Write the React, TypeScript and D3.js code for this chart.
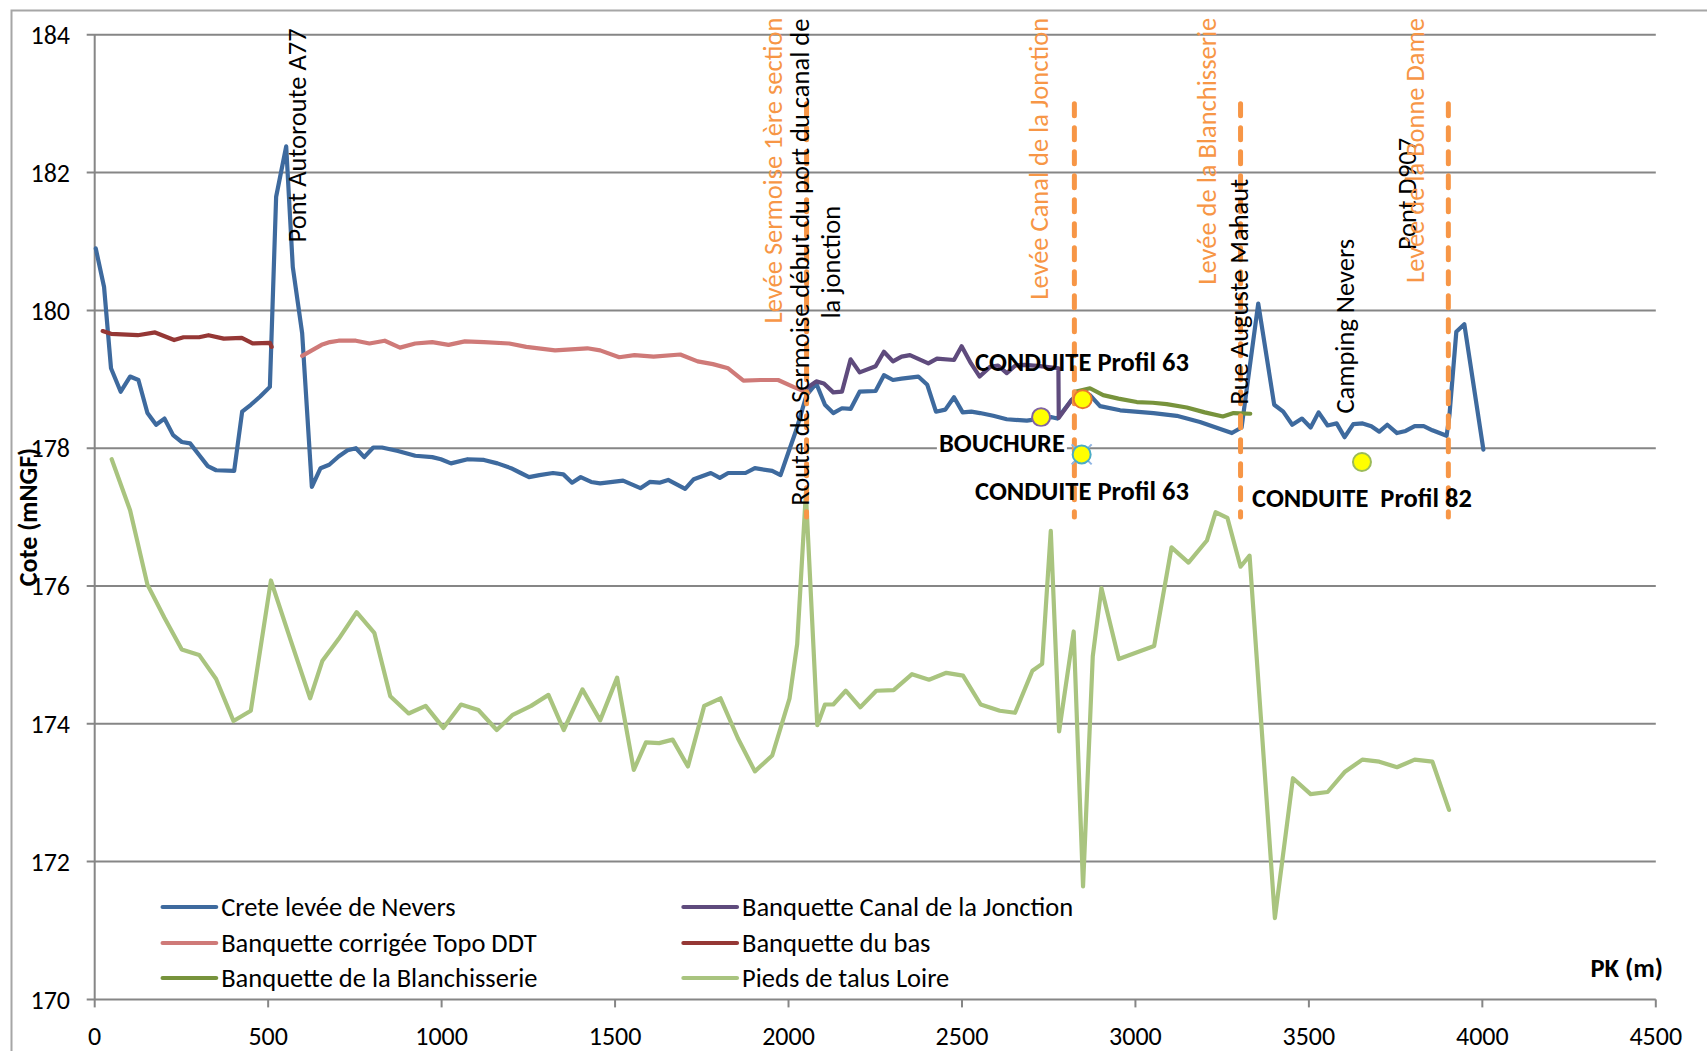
import React, { useRef, useEffect } from 'react';
import * as d3 from 'd3';

type Pt = [number, number];

// PK (m), cote (mNGF)
const creteNevers: Pt[] = [
  [3, 180.9], [27, 180.34], [47, 179.16], [75, 178.82], [102, 179.04], [126, 178.99], [152, 178.51],
  [177, 178.34], [201, 178.43], [226, 178.19], [251, 178.09], [275, 178.07], [301, 177.9], [326, 177.74],
  [350, 177.68], [402, 177.67], [425, 178.53], [450, 178.63], [477, 178.75], [505, 178.89], [523, 181.65],
  [552, 182.38], [571, 180.63], [598, 179.67], [626, 177.44], [651, 177.71], [676, 177.76], [703, 177.88],
  [729, 177.97], [753, 178.0], [777, 177.87], [803, 178.01], [828, 178.01], [874, 177.96], [924, 177.89],
  [973, 177.87], [998, 177.84], [1027, 177.78], [1075, 177.84], [1122, 177.83], [1161, 177.78], [1200, 177.71],
  [1228, 177.64], [1252, 177.58], [1282, 177.61], [1321, 177.64], [1351, 177.62], [1376, 177.5], [1401, 177.58],
  [1431, 177.51], [1457, 177.49], [1523, 177.53], [1573, 177.42], [1600, 177.51], [1628, 177.5], [1653, 177.54],
  [1702, 177.41], [1727, 177.55], [1776, 177.64], [1802, 177.57], [1826, 177.64], [1876, 177.64], [1903, 177.71],
  [1953, 177.67], [1977, 177.61], [1999, 177.93], [2022, 178.26], [2052, 178.77], [2080, 178.94], [2105, 178.63],
  [2129, 178.51], [2154, 178.58], [2179, 178.57], [2205, 178.82], [2251, 178.83], [2275, 179.06], [2301, 178.99],
  [2326, 179.01], [2374, 179.04], [2400, 178.92], [2425, 178.53], [2452, 178.56], [2477, 178.74], [2502, 178.52],
  [2527, 178.53], [2552, 178.51], [2590, 178.47], [2629, 178.42], [2687, 178.4], [2728, 178.43], [2759, 178.45],
  [2775, 178.43], [2816, 178.7], [2840, 178.82], [2869, 178.77], [2898, 178.61], [2956, 178.55], [3052, 178.51],
  [3119, 178.47], [3186, 178.38], [3278, 178.22], [3306, 178.3], [3354, 180.1], [3400, 178.63], [3426, 178.53],
  [3452, 178.34], [3480, 178.43], [3505, 178.3], [3528, 178.52], [3554, 178.33], [3580, 178.36], [3603, 178.16],
  [3628, 178.35], [3655, 178.36], [3680, 178.32], [3703, 178.24], [3726, 178.34], [3754, 178.22], [3779, 178.25],
  [3805, 178.32], [3831, 178.32], [3856, 178.26], [3897, 178.18], [3905, 178.47], [3925, 179.69], [3948, 179.8],
  [4003, 177.98],
];

const canalJonction: Pt[] = [
  [2052, 178.87], [2080, 178.97], [2102, 178.94], [2129, 178.81], [2154, 178.82], [2179, 179.29], [2205, 179.1],
  [2251, 179.19], [2275, 179.4], [2301, 179.26], [2326, 179.33], [2350, 179.35], [2403, 179.23], [2428, 179.3],
  [2477, 179.28], [2499, 179.48], [2526, 179.23], [2551, 179.04], [2581, 179.18], [2604, 179.2], [2629, 179.09],
  [2654, 179.2], [2681, 179.21], [2725, 179.19], [2778, 179.16], [2779, 178.44], [2816, 178.7],
];

const corrigeeDDT: Pt[] = [
  [598, 179.34], [626, 179.42], [654, 179.5], [678, 179.54], [703, 179.56], [753, 179.56], [792, 179.52],
  [836, 179.56], [880, 179.46], [924, 179.52], [973, 179.54], [1020, 179.5], [1067, 179.55], [1122, 179.54],
  [1195, 179.52], [1244, 179.47], [1327, 179.42], [1420, 179.45], [1457, 179.42], [1512, 179.32], [1556, 179.35],
  [1611, 179.33], [1688, 179.36], [1738, 179.26], [1782, 179.22], [1826, 179.16], [1870, 178.98], [1920, 178.99],
  [1970, 178.99], [2014, 178.89], [2057, 178.8],
];

const banquetteBas: Pt[] = [
  [23, 179.7], [47, 179.66], [124, 179.64], [174, 179.68], [229, 179.57], [256, 179.61], [301, 179.61],
  [328, 179.64], [372, 179.59], [424, 179.6], [455, 179.52], [505, 179.53], [510, 179.47],
];

const blanchisserie: Pt[] = [
  [2826, 178.82], [2869, 178.87], [2907, 178.77], [2951, 178.72], [3004, 178.67], [3050, 178.66], [3090, 178.64],
  [3148, 178.59], [3200, 178.52], [3252, 178.46], [3283, 178.51], [3331, 178.5],
];

const piedsTalus: Pt[] = [
  [49, 177.84], [102, 177.1], [152, 176.02], [201, 175.54], [251, 175.08], [301, 175.0], [350, 174.65],
  [400, 174.04], [450, 174.19], [508, 176.08], [565, 175.21], [621, 174.37], [656, 174.91], [703, 175.23],
  [755, 175.62], [806, 175.32], [852, 174.4], [905, 174.15], [954, 174.26], [1005, 173.94], [1056, 174.28],
  [1106, 174.2], [1159, 173.91], [1205, 174.13], [1258, 174.26], [1308, 174.42], [1352, 173.91], [1406, 174.5],
  [1457, 174.05], [1506, 174.67], [1554, 173.33], [1589, 173.73], [1627, 173.72], [1666, 173.77], [1710, 173.38],
  [1757, 174.26], [1804, 174.37], [1854, 173.79], [1903, 173.31], [1953, 173.54], [2003, 174.37], [2025, 175.16],
  [2050, 177.35], [2083, 173.98], [2105, 174.28], [2129, 174.28], [2165, 174.48], [2207, 174.24], [2253, 174.48],
  [2303, 174.49], [2356, 174.72], [2405, 174.64], [2455, 174.74], [2503, 174.7], [2554, 174.28], [2609, 174.19],
  [2653, 174.16], [2703, 174.77], [2731, 174.87], [2756, 176.8], [2780, 173.89], [2822, 175.34], [2849, 171.64],
  [2877, 174.98], [2902, 175.97], [2952, 174.94], [3001, 175.03], [3054, 175.13], [3104, 176.56], [3153, 176.34],
  [3206, 176.66], [3231, 177.07], [3265, 176.99], [3303, 176.28], [3329, 176.44], [3402, 171.18], [3454, 173.21],
  [3505, 172.98], [3554, 173.01], [3603, 173.3], [3654, 173.48], [3703, 173.45], [3754, 173.37], [3805, 173.48],
  [3856, 173.45], [3904, 172.75],
];

// points singuliers (bouchure, conduites)
const markers: { pk: number; cote: number; stroke: string; cross?: boolean }[] = [
  { pk: 2728, cote: 178.45, stroke: '#8064A2' },
  { pk: 2848, cote: 178.71, stroke: '#E9782F' },
  { pk: 2845, cote: 177.91, stroke: '#4BACC6', cross: true },
  { pk: 3653, cote: 177.8, stroke: '#9BBB59' },
];

// limites de levées (traits orange)
const limites = [2052, 2824, 3303, 3902];

const xTicks = [0, 500, 1000, 1500, 2000, 2500, 3000, 3500, 4000, 4500];
const yTicks = [170, 172, 174, 176, 178, 180, 182, 184];

const rotatedLabels: { lines: string[]; pk: number; cote: number; color: string }[] = [
  { lines: ['Pont Autoroute A77'], pk: 609, cote: 182.54, color: '#000' },
  { lines: ['Levée Sermoise 1ère section'], pk: 1981, cote: 182.03, color: '#F79646' },
  { lines: ['Route de Sermoise début du port du canal de', 'la jonction'], pk: 2059, cote: 180.7, color: '#000' },
  { lines: ['Levée Canal de la Jonction'], pk: 2749, cote: 182.2, color: '#F79646' },
  { lines: ['Levée de la Blanchisserie'], pk: 3231, cote: 182.31, color: '#F79646' },
  { lines: ['Rue Auguste Mahaut'], pk: 3324, cote: 180.27, color: '#000' },
  { lines: ['Camping Nevers'], pk: 3630, cote: 179.77, color: '#000' },
  { lines: ['Pont D907'], pk: 3809, cote: 181.69, color: '#000' },
  { lines: ['Levée de la Bonne Dame'], pk: 3832, cote: 182.32, color: '#F79646' },
];

const boldLabels: { text: string; pk: number; cote: number; bg?: boolean }[] = [
  { text: 'CONDUITE Profil 63', pk: 2846, cote: 179.12 },
  { text: 'BOUCHURE', pk: 2615, cote: 177.95, bg: true },
  { text: 'CONDUITE Profil 63', pk: 2846, cote: 177.25 },
  { text: 'CONDUITE  Profil 82', pk: 3653, cote: 177.14 },
];

const FONT = 'Carlito, Calibri, Lato, sans-serif';
const FS = 26.5;

const Chart: React.FC = () => {
  const svgRef = useRef<SVGSVGElement>(null);

  useEffect(() => {
    if (!svgRef.current) return;
    const svg = d3.select(svgRef.current);
    svg.selectAll('*').remove();

    const x = d3.scaleLinear().domain([0, 4500]).range([94.7, 1655.8]);
    const y = d3.scaleLinear().domain([170, 184]).range([999.4, 34.8]);

    // cadre du graphique
    svg.append('rect')
      .attr('x', 11.5).attr('y', 10.5)
      .attr('width', 1720).attr('height', 1100)
      .attr('fill', '#fff').attr('stroke', '#a6a6a6').attr('stroke-width', 2);

    const grid = svg.append('g').attr('stroke', '#868686').attr('stroke-width', 2);
    yTicks.forEach(t => {
      grid.append('line')
        .attr('x1', x(0) - 8).attr('x2', x(4500))
        .attr('y1', y(t)).attr('y2', y(t));
    });
    grid.append('line').attr('x1', x(0)).attr('x2', x(0)).attr('y1', y(184)).attr('y2', y(170));
    xTicks.forEach(t => {
      grid.append('line').attr('x1', x(t)).attr('x2', x(t)).attr('y1', y(170)).attr('y2', y(170) + 8);
    });

    const axisText = svg.append('g').attr('font-family', FONT).attr('font-size', 26).attr('fill', '#000');
    yTicks.forEach(t => {
      axisText.append('text')
        .attr('x', 70).attr('y', y(t)).attr('dy', '0.35em')
        .attr('text-anchor', 'end').text(t);
    });
    xTicks.forEach(t => {
      axisText.append('text')
        .attr('x', x(t)).attr('y', 1044.5)
        .attr('text-anchor', 'middle').text(t);
    });

    const series = [
      { name: 'Crete levée de Nevers', data: creteNevers, color: '#3E6A9E' },
      { name: 'Banquette Canal de la Jonction', data: canalJonction, color: '#5F4B7D' },
      { name: 'Banquette corrigée Topo DDT', data: corrigeeDDT, color: '#CF7A78' },
      { name: 'Banquette du bas', data: banquetteBas, color: '#953735' },
      { name: 'Banquette de la Blanchisserie', data: blanchisserie, color: '#77933C' },
      { name: 'Pieds de talus Loire', data: piedsTalus, color: '#A9C47F' },
    ];

    const line = d3.line<Pt>().x(d => x(d[0])).y(d => y(d[1]));

    series.forEach(s => {
      svg.append('path')
        .datum(s.data)
        .attr('fill', 'none')
        .attr('stroke', s.color)
        .attr('stroke-width', 4.2)
        .attr('stroke-linejoin', 'round')
        .attr('stroke-linecap', 'round')
        .attr('d', line);
    });

    // traits verticaux orange pointillés
    limites.forEach(pk => {
      svg.append('line')
        .attr('x1', x(pk)).attr('x2', x(pk))
        .attr('y1', y(183)).attr('y2', y(177))
        .attr('stroke', '#F79646').attr('stroke-width', 5)
        .attr('stroke-dasharray', '12 12').attr('stroke-linecap', 'round');
    });

    markers.forEach(m => {
      const cx = x(m.pk), cy = y(m.cote);
      if (m.cross) {
        svg.append('path')
          .attr('d', `M${cx - 10},${cy - 10}L${cx + 10},${cy + 10}M${cx + 10},${cy - 10}L${cx - 10},${cy + 10}`)
          .attr('stroke', '#8EB4E3').attr('stroke-width', 2);
      }
      svg.append('circle')
        .attr('cx', cx).attr('cy', cy).attr('r', 9)
        .attr('fill', '#FFFF00').attr('stroke', m.stroke).attr('stroke-width', 2);
    });

    // étiquettes verticales
    rotatedLabels.forEach(l => {
      const t = svg.append('text')
        .attr('transform', `translate(${x(l.pk)},${y(l.cote)}) rotate(-90)`)
        .attr('font-family', FONT).attr('font-size', FS)
        .attr('fill', l.color).attr('text-anchor', 'middle');
      l.lines.forEach((s, i) => {
        t.append('tspan').attr('x', 0).attr('y', i * 31).text(s);
      });
    });

    boldLabels.forEach(l => {
      const g = svg.append('g');
      const t = g.append('text')
        .attr('x', x(l.pk)).attr('y', y(l.cote))
        .attr('font-family', FONT).attr('font-size', FS).attr('font-weight', 'bold')
        .attr('text-anchor', 'middle').attr('fill', '#000')
        .style('white-space', 'pre')
        .text(l.text);
      if (l.bg) {
        const b = (t.node() as SVGTextElement).getBBox();
        g.insert('rect', 'text')
          .attr('x', b.x - 2).attr('y', b.y)
          .attr('width', b.width + 4).attr('height', b.height)
          .attr('fill', '#fff');
      }
    });

    svg.append('text')
      .attr('x', x(4521)).attr('y', y(170.32))
      .attr('font-family', FONT).attr('font-size', FS).attr('font-weight', 'bold')
      .attr('text-anchor', 'end').text('PK (m)');

    svg.append('text')
      .attr('transform', 'translate(37,517) rotate(-90)')
      .attr('font-family', FONT).attr('font-size', 26).attr('font-weight', 'bold')
      .attr('text-anchor', 'middle').text('Cote (mNGF)');

    // légende sur deux colonnes
    const legendCols = [162.6, 683.4];
    const legendRows = [907, 943, 978];
    series.forEach((s, i) => {
      const lx = legendCols[i % 2];
      const ly = legendRows[Math.floor(i / 2)];
      svg.append('line')
        .attr('x1', lx).attr('x2', lx + 53.6)
        .attr('y1', ly).attr('y2', ly)
        .attr('stroke', s.color).attr('stroke-width', 4.2).attr('stroke-linecap', 'round');
      svg.append('text')
        .attr('x', lx + 58.6).attr('y', ly).attr('dy', '0.35em')
        .attr('font-family', FONT).attr('font-size', FS)
        .text(s.name);
    });
  }, []);

  return <svg ref={svgRef} width={1707} height={1051} style={{ position: 'absolute', left: 0, top: 0 }} />;
};

export default function App() {
  return <Chart />;
}
